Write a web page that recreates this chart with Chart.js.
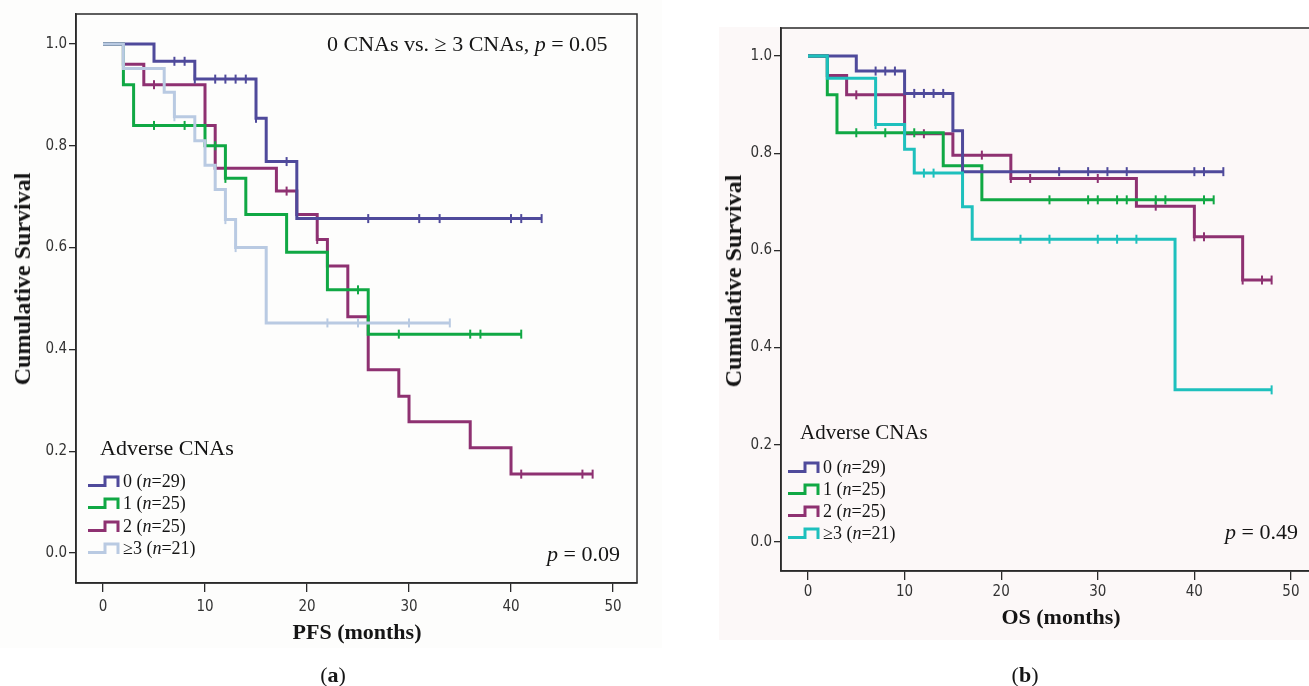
<!DOCTYPE html>
<html>
<head>
<meta charset="utf-8">
<script src="https://cdn.jsdelivr.net/npm/chart.js@4.4.1/dist/chart.umd.min.js"></script>
<style>
  html, body { margin: 0; padding: 0; background: #fff; overflow: hidden; width: 1309px; height: 686px; }
  #bgA { position: absolute; left: 0; top: 0; width: 662px; height: 648px; background: #fdfdfc; }
  #bgB { position: absolute; left: 719px; top: 27px; width: 620px; height: 613px; background: #fcf8f8; }
  canvas { position: absolute; }
  #chartA { left: 0; top: 0; }
  #chartB { left: 719px; top: 0; }
  .txt { position: absolute; font-family: "Liberation Serif", "Times New Roman", serif; color: #151515; white-space: nowrap; line-height: 1; }
  .note { font-size: 22px; }
  .leg-title { font-size: 21px; }
  .leg-item { font-size: 18px; display: flex; align-items: center; }
  .leg-item svg { margin-right: 3px; }
  .ytitle { font-size: 24px; font-weight: bold; transform: translate(-50%, -50%) rotate(-90deg); }
  .xtitle { font-size: 22px; font-weight: bold; transform: translate(-50%, -50%); }
  .panel-tag { font-size: 22px; transform: translate(-50%, -50%); }
</style>
</head>
<body>
<div id="bgA"></div>
<div id="bgB"></div>
<canvas id="chartA" width="660" height="650"></canvas>
<canvas id="chartB" width="620" height="650"></canvas>

<div class="txt note" style="left:327px; top:33px;">0 CNAs vs. &ge; 3 CNAs, <i>p</i> = 0.05</div>
<div class="txt note" style="left:547px; top:543px;"><i>p</i> = 0.09</div>
<div class="txt note" style="left:1225px; top:521px;"><i>p</i> = 0.49</div>

<div class="txt ytitle" style="left:22px; top:279px;">Cumulative Survival</div>
<div class="txt ytitle" style="left:733px; top:281px;">Cumulative Survival</div>
<div class="txt xtitle" style="left:357px; top:632px;">PFS (months)</div>
<div class="txt xtitle" style="left:1061px; top:617px;">OS (months)</div>
<div class="txt panel-tag" style="left:333px; top:675px;">(<b>a</b>)</div>
<div class="txt panel-tag" style="left:1025px; top:675px;">(<b>b</b>)</div>

<div id="legendA"></div>
<div id="legendB"></div>

<script>
// axes
const X_TICKS = [0, 10, 20, 30, 40, 50];
const Y_TICKS = [0, 0.2, 0.4, 0.6, 0.8, 1.0];

// groups (number of adverse CNAs)
const GROUPS = ["0", "1", "2", "≥3"];
const GROUP_N = [29, 25, 25, 21];

// PFS curves: event times and survival after each event, plus censored times
const pfsTimes0 = [0, 5, 9, 15, 16, 19];
const pfsSurv0 = [1, 0.966, 0.931, 0.854, 0.769, 0.657];
const pfsCens0 = [7, 8, 9, 11, 12, 13, 14, 15, 18, 26, 31, 33, 40, 41, 43];

const pfsTimes1 = [0, 2, 3, 10, 12, 14, 18, 22, 26];
const pfsSurv1 = [1, 0.92, 0.84, 0.8, 0.736, 0.665, 0.591, 0.517, 0.43];
const pfsCens1 = [5, 8, 10, 11, 12, 25, 29, 36, 37, 41];

const pfsTimes2 = [0, 2, 4, 10, 11, 17, 19, 21, 22, 24, 26, 29, 30, 36, 40];
const pfsSurv2 = [1, 0.96, 0.92, 0.84, 0.756, 0.711, 0.665, 0.616, 0.564, 0.464, 0.36, 0.308, 0.258, 0.207, 0.155];
const pfsCens2 = [5, 18, 21, 41, 47, 48];

const pfsTimes3 = [0, 2, 6, 7, 9, 10, 11, 12, 13, 16];
const pfsSurv3 = [1, 0.952, 0.905, 0.857, 0.81, 0.762, 0.714, 0.655, 0.6, 0.452];
const pfsCens3 = [7, 12, 13, 22, 25, 30, 34];

// OS curves
const osTimes0 = [0, 5, 10, 15, 16];
const osSurv0 = [1, 0.969, 0.923, 0.846, 0.762];
const osCens0 = [7, 8, 9, 11, 12, 13, 14, 16, 26, 29, 31, 33, 40, 41, 43];

const osTimes1 = [0, 2, 3, 14, 18];
const osSurv1 = [1, 0.92, 0.842, 0.774, 0.704];
const osCens1 = [5, 8, 11, 25, 29, 30, 32, 33, 36, 37, 41, 42];

const osTimes2 = [0, 2, 4, 10, 15, 21, 34, 40, 45];
const osSurv2 = [1, 0.96, 0.92, 0.84, 0.796, 0.748, 0.691, 0.628, 0.539];
const osCens2 = [5, 12, 18, 21, 23, 30, 36, 40, 41, 45, 47, 48];

const osTimes3 = [0, 2, 7, 10, 11, 16, 17, 38];
const osSurv3 = [1, 0.954, 0.859, 0.808, 0.759, 0.69, 0.623, 0.313];
const osCens3 = [7, 12, 13, 22, 25, 30, 32, 34, 48];

const COLORS_A = ["#4f4a9b", "#10a844", "#8e3171", "#b9cae2"];
const COLORS_B = ["#4f4a9b", "#10a844", "#8e3171", "#1ec0bd"];

const TICK_FONT = { family: "'Liberation Sans Narrow', 'DejaVu Sans Condensed', 'Liberation Sans', sans-serif", size: 15 };
const AXIS_COLOR = "#2a2a2a";

// survival value at time t (value after any drop at t)
function survAt(times, surv, t) {
  let s = surv[0];
  for (let i = 0; i < times.length; i++) {
    if (times[i] <= t) s = surv[i];
  }
  return s;
}

function buildDatasets(timesList, survList, censList, colors, drawOrder) {
  const sets = [];
  timesList.forEach((times, g) => {
    const surv = survList[g];
    const cens = censList[g];
    const pts = times.map((t, i) => ({ x: t, y: surv[i] }));
    const lastT = Math.max(...cens);
    pts.push({ x: lastT, y: survAt(times, surv, lastT) });
    sets.push({
      type: "line",
      label: GROUPS[g],
      data: pts,
      stepped: "before",
      borderColor: colors[g],
      borderWidth: 3,
      pointRadius: 0,
      fill: false,
      order: drawOrder[g],
    });
    sets.push({
      type: "scatter",
      label: GROUPS[g] + " censored",
      data: cens.map((t) => ({ x: t, y: survAt(times, surv, t) })),
      showLine: false,
      pointStyle: "line",
      rotation: 90,
      pointRadius: 4.5,
      borderColor: colors[g],
      borderWidth: 2,
      order: drawOrder[g],
    });
  });
  return sets;
}

const framePlugin = {
  id: "frame",
  afterDraw(chart) {
    const a = chart.chartArea;
    const ctx = chart.ctx;
    ctx.save();
    ctx.strokeStyle = AXIS_COLOR;
    ctx.lineWidth = 1.5;
    ctx.strokeRect(a.left, a.top, a.right - a.left, a.bottom - a.top);
    ctx.restore();
  },
};

function makeChart(id, datasets, box) {
  return new Chart(document.getElementById(id), {
    type: "line",
    data: { datasets },
    options: {
      responsive: false,
      animation: false,
      layout: { padding: { top: box.top, right: box.right, left: 0, bottom: 0 } },
      plugins: { legend: { display: false }, tooltip: { enabled: false } },
      scales: {
        x: {
          type: "linear",
          min: box.xMin,
          max: box.xMax,
          afterBuildTicks: (s) => { s.ticks = X_TICKS.map((v) => ({ value: v })); },
          afterFit: (s) => { s.height = box.xHeight; },
          ticks: { color: "#333", font: TICK_FONT, padding: box.xPad, maxRotation: 0, autoSkip: false, callback: (v) => String(v) },
          grid: { drawOnChartArea: false, tickLength: 9, color: AXIS_COLOR, lineWidth: 1.3 },
          border: { color: AXIS_COLOR, width: 1.5 },
        },
        y: {
          type: "linear",
          min: box.yMin,
          max: box.yMax,
          afterBuildTicks: (s) => { s.ticks = Y_TICKS.map((v) => ({ value: v })); },
          afterFit: (s) => { s.width = box.yWidth; },
          ticks: { color: "#333", font: TICK_FONT, padding: 2, autoSkip: false, callback: (v) => v.toFixed(1) },
          grid: { drawOnChartArea: false, tickLength: 7, color: AXIS_COLOR, lineWidth: 1.3 },
          border: { color: AXIS_COLOR, width: 1.5 },
        },
      },
    },
    plugins: [framePlugin],
  });
}

// lower order drawn on top
const ORDER = [2, 3, 4, 1];

makeChart(
  "chartA",
  buildDatasets(
    [pfsTimes0, pfsTimes1, pfsTimes2, pfsTimes3],
    [pfsSurv0, pfsSurv1, pfsSurv2, pfsSurv3],
    [pfsCens0, pfsCens1, pfsCens2, pfsCens3],
    COLORS_A, ORDER
  ),
  { top: 14, right: 23, yWidth: 76, xHeight: 67, xPad: 6, xMin: -2.647, xMax: 52.35, yMin: -0.0589, yMax: 1.0589 }
);

makeChart(
  "chartB",
  buildDatasets(
    [osTimes0, osTimes1, osTimes2, osTimes3],
    [osSurv0, osSurv1, osSurv2, osSurv3],
    [osCens0, osCens1, osCens2, osCens3],
    COLORS_B, ORDER
  ),
  { top: 28, right: 21, yWidth: 62, xHeight: 79, xPad: 3, xMin: -2.795, xMax: 52.8, yMin: -0.0597, yMax: 1.0576 }
);

// legends (HTML text, step icons)
function buildLegend(id, colors, left, titleY, itemY, titleSize) {
  const host = document.getElementById(id);
  let html = `<div class="txt leg-title" style="left:${left}px; top:${titleY - 10}px; font-size:${titleSize}px;">Adverse CNAs</div>`;
  GROUPS.forEach((g, i) => {
    html += `<div class="txt leg-item" style="left:${left - 13}px; top:${itemY[i] - 11}px; height:22px;">` +
      `<svg width="33" height="22"><path d="M1 15.5 H18 V7 H31 V17" stroke="${colors[i]}" stroke-width="3" fill="none"/></svg>` +
      `<span>${g} (<i>n</i>=${GROUP_N[i]})</span></div>`;
  });
  host.innerHTML = html;
}

buildLegend("legendA", COLORS_A, 100, 447, [481, 503, 526, 548], 22);
buildLegend("legendB", COLORS_B, 800, 432, [467, 489, 511, 533], 21);
</script>
</body>
</html>
